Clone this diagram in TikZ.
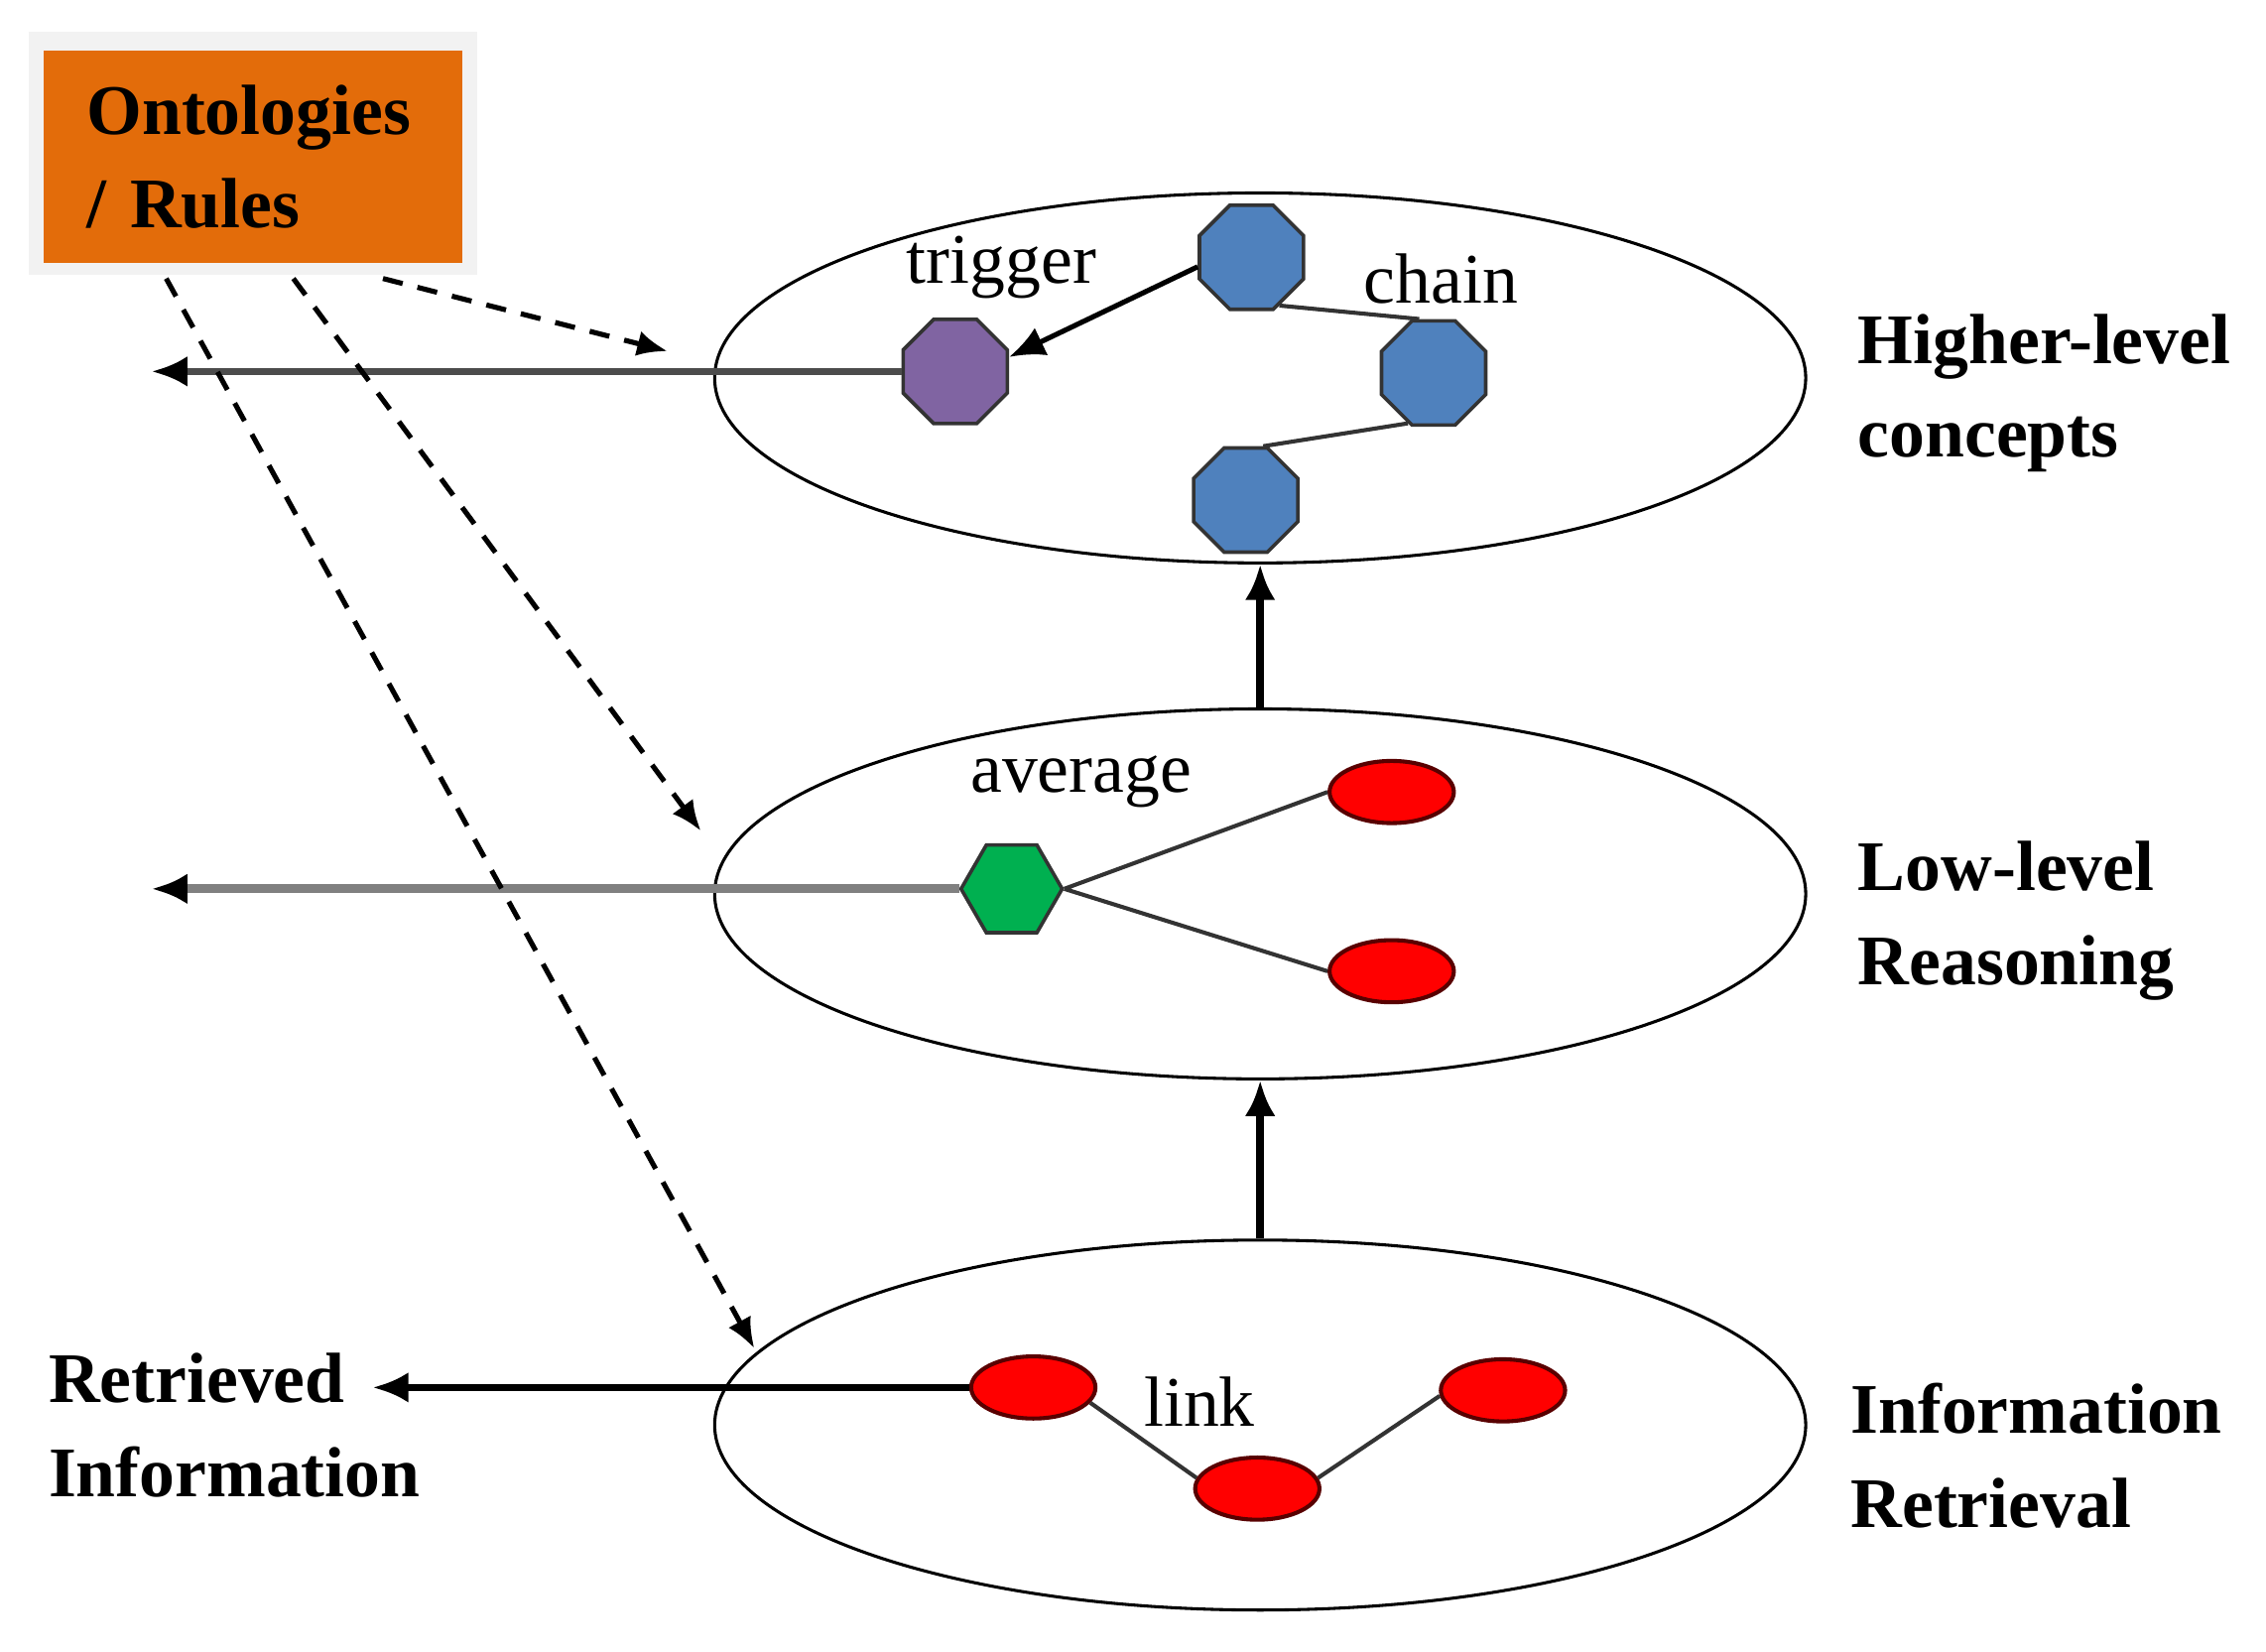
\documentclass[tikz,border=0pt]{standalone}
\usepackage{fontspec}
\setmainfont{Liberation Serif}
\usetikzlibrary{shapes.geometric,arrows.meta}
\definecolor{ontoorange}{RGB}{227,108,10}
\definecolor{concblue}{RGB}{79,129,189}
\definecolor{trigpurple}{RGB}{128,100,162}
\definecolor{avggreen}{RGB}{0,176,80}
\tikzset{
  ontobox/.style={fill=ontoorange, minimum width=2.9cm, minimum height=1.47cm,
    text width=2.3cm, inner xsep=0.3cm, align=left,
    font=\bfseries\fontsize{14}{18.5}\selectfont},
  layer/.style={draw, ellipse, line width=0.6pt, minimum width=7.55cm, minimum height=2.56cm},
  concept/.style={draw=black!80, line width=0.7pt, fill=concblue, regular polygon,
    regular polygon sides=8, minimum size=0.78cm, inner sep=0},
  hexa/.style={draw=black!80, line width=0.7pt, fill=avggreen, regular polygon,
    regular polygon sides=6, minimum size=0.70cm, inner sep=0},
  dot/.style={draw=red!35!black, line width=0.8pt, fill=red, ellipse,
    minimum width=0.86cm, minimum height=0.43cm, inner sep=0},
  level/.style={font=\bfseries\fontsize{14}{18.5}\selectfont, align=left, inner sep=0, anchor=west},
  tag/.style={font=\fontsize{14}{17}\selectfont, inner sep=0},
  link/.style={draw=black!80, line width=0.8pt},
  uparrow/.style={line width=1.6pt, -{Latex[length=7pt, width=6pt]}},
  outarrow/.style={-{Latex[length=7pt, width=6pt, color=black]}},
  rule/.style={line width=1pt, dash pattern=on 4pt off 3pt, -{Latex[length=6pt, width=5pt]}}
}
\begin{document}
\begin{tikzpicture}
    \useasboundingbox (0, 0) rectangle (15.68, -11.43);
    \fill[black!5] (0.20, -0.22) rectangle (3.30, -1.90);
    \node (onto) [ontobox] at (1.75, -1.085) {Ontologies\\/ Rules};
    \node (hl) [layer] at (8.72, -2.615) {};
    \node (ll) [layer] at (8.72, -6.185) {};
    \node (ir) [layer] at (8.72, -9.86) {};
    \node (trig) [concept, fill=trigpurple] at (6.61, -2.57) {};
    \node (c1) [concept] at (8.66, -1.78) {};
    \node (c2) [concept] at (9.92, -2.58) {};
    \node (c3) [concept] at (8.62, -3.46) {};
    \node (avg) [hexa] at (7.00, -6.15) {};
    \node (a1) [dot] at (9.63, -5.48) {};
    \node (a2) [dot] at (9.63, -6.72) {};
    \node (r1) [dot] at (7.15, -9.60) {};
    \node (r2) [dot] at (8.70, -10.30) {};
    \node (r3) [dot] at (10.40, -9.62) {};
    \node (trigl) [tag] at (6.93, -1.85) {trigger};
    \node (chainl) [tag] at (9.97, -1.93) {chain};
    \node (avgl) [tag] at (7.48, -5.41) {average};
    \node (linkl) [tag] at (8.30, -9.70) {link};
    \node (hll) [level] at (12.85, -2.72) {Higher-level\\concepts};
    \node (lll) [level] at (12.85, -6.37) {Low-level\\Reasoning};
    \node (irl) [level] at (12.80, -10.07) {Information\\Retrieval};
    \node (outl) [level] at (0.33, -9.86) {Retrieved\\Information};
    \coordinate (hlout) at (1.05, -2.57);
    \coordinate (llout) at (1.05, -6.15);
    \coordinate (irout) at (2.58, -9.60);
    \coordinate (hlrule) at (4.62, -2.43);
    \coordinate (llrule) at (4.85, -5.75);
    \coordinate (irrule) at (5.22, -9.33);
    \draw[uparrow] (ir.north) -- (ll.south);
    \draw[uparrow] (ll.north) -- (hl.south);
    \draw[link] (c1.-60) -- (c2.105)
                (c2.-117) -- (c3.72)
                (avg.east) -- (a1.west)
                (avg.east) -- (a2.west)
                (r1.-15) -- (r2.170)
                (r2.10) -- (r3.185);
    \draw[line width=1pt, -{Latex[length=7pt, width=6pt]}] (c1.190) -- (trig.15);
    \draw[outarrow, black!70, line width=1.3pt] (trig.west) -- (hlout);
    \draw[outarrow, gray, line width=1.8pt] (avg.west) -- (llout);
    \draw[outarrow, line width=1.3pt] (r1.west) -- (irout);
    \draw[rule] ([shift={(0.90, -0.10)}]onto.south) -- (hlrule);
    \draw[rule] ([shift={(0.28, -0.10)}]onto.south) -- (llrule);
    \draw[rule] ([shift={(-0.60, -0.10)}]onto.south) -- (irrule);
  \end{tikzpicture}
\end{document}
